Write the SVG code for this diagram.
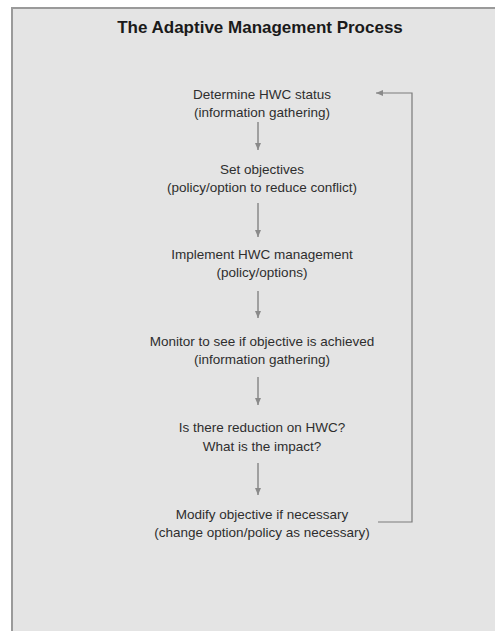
<svg xmlns="http://www.w3.org/2000/svg" width="495" height="631" viewBox="0 0 495 631">
<style>
.t{font-family:"Liberation Sans",Arial,sans-serif;font-size:13.5px;fill:#2e2e2e;text-anchor:middle}
.title{font-family:"Liberation Sans",Arial,sans-serif;font-size:17px;font-weight:bold;fill:#1a1a1a;text-anchor:middle}
.c{stroke:#8a8a8a;stroke-width:1.5;fill:none}
.fb{stroke:#7a7a7a;stroke-width:1.2;fill:none}
</style>
<defs>
<marker id="ah" markerWidth="8" markerHeight="8" refX="7" refY="4" orient="auto" markerUnits="userSpaceOnUse">
<path d="M0,1 L7,4 L0,7 Z" fill="#8a8a8a"/>
</marker>
</defs>
<rect x="0" y="0" width="495" height="631" fill="#ffffff"/>
<rect x="12" y="8" width="500" height="640" fill="#e4e4e4" stroke="#9a9a9a" stroke-width="2"/>
<text class="title" x="260" y="33">The Adaptive Management Process</text>
<g id="n1"><text class="t" x="262" y="99">Determine HWC status</text><text class="t" x="262" y="117">(information gathering)</text></g>
<g id="n2"><text class="t" x="262" y="174">Set objectives</text><text class="t" x="262" y="192">(policy/option to reduce conflict)</text></g>
<g id="n3"><text class="t" x="262" y="259">Implement HWC management</text><text class="t" x="262" y="277">(policy/options)</text></g>
<g id="n4"><text class="t" x="262" y="346">Monitor to see if objective is achieved</text><text class="t" x="262" y="364">(information gathering)</text></g>
<g id="n5"><text class="t" x="262" y="432">Is there reduction on HWC?</text><text class="t" x="262" y="451">What is the impact?</text></g>
<g id="n6"><text class="t" x="262" y="519">Modify objective if necessary</text><text class="t" x="262" y="537">(change option/policy as necessary)</text></g>
<g id="connectors">
<line class="c" x1="258" y1="122" x2="258" y2="150" marker-end="url(#ah)"/>
<line class="c" x1="258" y1="203" x2="258" y2="237" marker-end="url(#ah)"/>
<line class="c" x1="258" y1="291" x2="258" y2="318" marker-end="url(#ah)"/>
<line class="c" x1="258" y1="377" x2="258" y2="405" marker-end="url(#ah)"/>
<line class="c" x1="258" y1="463" x2="258" y2="495" marker-end="url(#ah)"/>
<polyline class="fb" points="378,522 412,522 412,93 376,93" marker-end="url(#ah)"/>
</g>
</svg>
